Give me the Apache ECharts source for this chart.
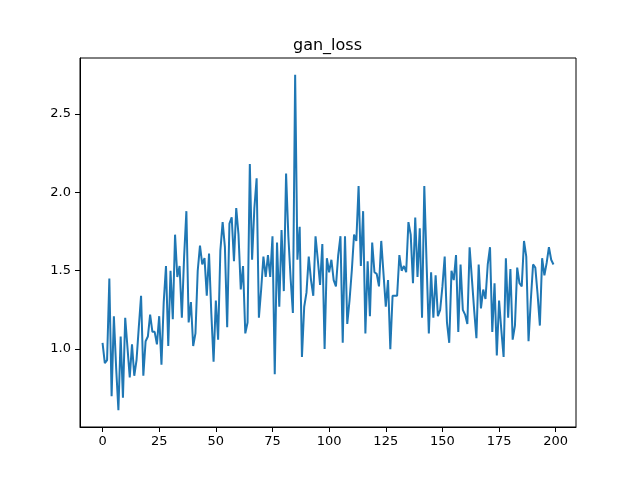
<!DOCTYPE html>
<html>
<head>
<meta charset="utf-8">
<script src="https://cdn.jsdelivr.net/npm/echarts@6/dist/echarts.min.js"></script>
<style>
html,body{margin:0;padding:0;background:#fff;}
#chart{width:640px;height:480px;}
</style>
</head>
<body>
<div id="chart"></div>
<script>
const titleText = "gan_loss";
const xTicks = [0, 25, 50, 75, 100, 125, 150, 175, 200];
const yTicks = [1.0, 1.5, 2.0, 2.5];
const ganLoss = [
1.04,0.91,0.93,1.45,0.70,1.21,0.88,0.61,1.08,0.69,
1.20,1.01,0.82,1.03,0.83,0.93,1.14,1.34,0.83,1.05,
1.08,1.22,1.11,1.11,1.03,1.21,0.90,1.30,1.53,1.02,
1.50,1.19,1.73,1.46,1.53,1.20,1.59,1.88,1.17,1.30,
1.02,1.10,1.50,1.66,1.54,1.58,1.34,1.61,1.23,0.92,
1.31,1.06,1.63,1.81,1.65,1.14,1.80,1.84,1.56,1.90,
1.73,1.38,1.53,1.10,1.17,2.18,1.57,1.90,2.09,1.20,
1.38,1.59,1.46,1.60,1.46,1.72,0.84,1.68,1.27,1.76,
1.37,2.12,1.72,1.45,1.23,2.75,1.57,1.78,0.95,1.27,
1.36,1.59,1.44,1.34,1.72,1.57,1.41,1.67,1.00,1.58,
1.49,1.57,1.44,1.40,1.60,1.72,1.04,1.72,1.16,1.31,
1.50,1.73,1.69,2.04,1.53,1.88,1.10,1.56,1.21,1.68,
1.49,1.48,1.40,1.69,1.48,1.27,1.44,1.00,1.34,1.34,
1.34,1.60,1.50,1.53,1.49,1.81,1.73,1.42,1.84,1.46,
1.77,1.20,2.04,1.55,1.10,1.49,1.20,1.47,1.21,1.25,
1.40,1.59,1.17,1.04,1.50,1.44,1.60,1.11,1.54,1.25,
1.22,1.16,1.65,1.45,1.25,1.07,1.54,1.26,1.38,1.32,
1.54,1.65,1.11,1.42,0.96,1.31,1.12,0.95,1.58,1.20,
1.51,1.06,1.15,1.52,1.42,1.40,1.69,1.59,1.05,1.31,
1.54,1.52,1.35,1.15,1.58,1.47,1.55,1.65,1.57,1.54
];

const n = ganLoss.length;
const xPad = (n - 1) * 0.05;
const yMin = Math.min(...ganLoss), yMaxV = Math.max(...ganLoss);
const yPad = (yMaxV - yMin) * 0.05;
const seriesData = ganLoss.map((v, i) => [i, v]);

const chart = echarts.init(document.getElementById('chart'), null, {renderer: 'canvas'});
const font = 'DejaVu Sans';
chart.setOption({
  animation: false,
  backgroundColor: '#ffffff',
  title: {
    text: titleText,
    left: 293, top: 38, padding: 0,
    textStyle: {fontFamily: font, fontSize: 16, fontWeight: 'normal', color: '#000'}
  },
  grid: {
    left: 80, right: 64, top: 58, bottom: 53,
    show: true, borderColor: '#000', borderWidth: 1, backgroundColor: 'transparent'
  },
  xAxis: {
    type: 'value',
    min: -xPad, max: n - 1 + xPad,
    splitLine: {show: false},
    axisLine: {show: true, onZero: false, lineStyle: {color: '#000', width: 1}},
    axisTick: {show: true, length: 5, lineStyle: {color: '#000'}, customValues: xTicks},
    axisLabel: {
      fontFamily: font, fontSize: 13, color: '#000', margin: 8,
      customValues: xTicks, formatter: v => String(v)
    }
  },
  yAxis: {
    type: 'value',
    min: yMin - yPad, max: yMaxV + yPad,
    splitLine: {show: false},
    axisLine: {show: true, onZero: false, lineStyle: {color: '#000', width: 1}},
    axisTick: {show: true, length: 5, lineStyle: {color: '#000'}, customValues: yTicks},
    axisLabel: {
      fontFamily: font, fontSize: 13, color: '#000', margin: 9,
      customValues: yTicks, formatter: v => Number(v).toFixed(1)
    }
  },
  series: [{
    type: 'line',
    data: seriesData,
    showSymbol: false,
    symbol: 'none',
    lineStyle: {color: '#1f77b4', width: 2},
    itemStyle: {color: '#1f77b4'}
  }]
});
</script>
</body>
</html>
